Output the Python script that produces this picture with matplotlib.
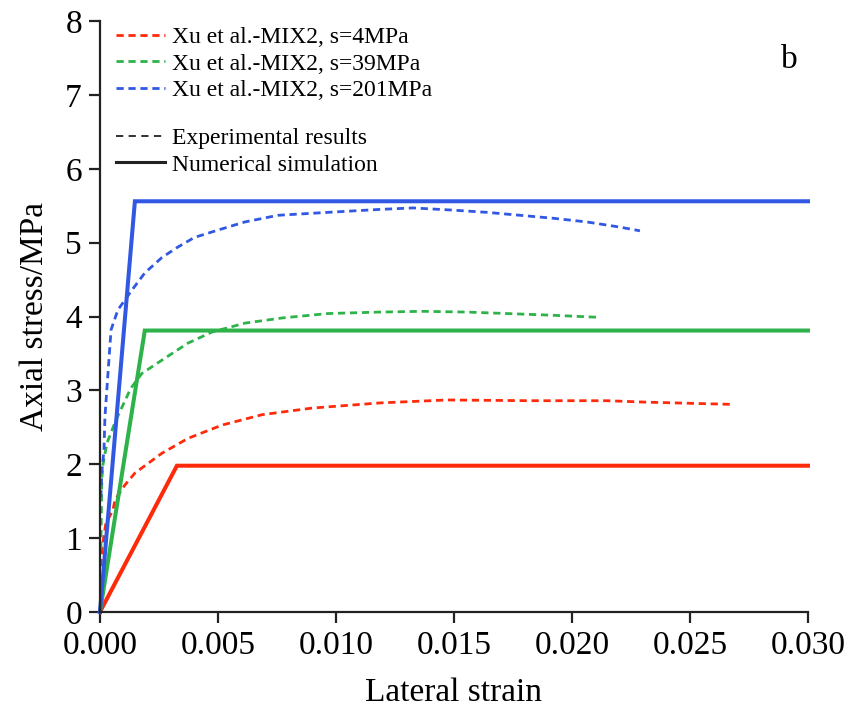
import numpy as np
import matplotlib.pyplot as plt
from matplotlib.lines import Line2D

plt.rcParams['font.family'] = ['Liberation Serif', 'DejaVu Serif']

# -----------------------------
# Experimental curves (Xu et al.-MIX2)
# -----------------------------
exp_s4_x = [0.00004, 0.00008, 0.00025, 0.00055, 0.00064, 0.00106, 0.00148, 0.00263,
            0.00373, 0.00517, 0.00686, 0.00898, 0.01186, 0.0147, 0.01822, 0.02148,
            0.02318, 0.02683]
exp_s4_y = [0.62, 0.85, 1.2, 1.38, 1.52, 1.72, 1.88, 2.15,
            2.35, 2.53, 2.67, 2.76, 2.83, 2.87, 2.86, 2.86,
            2.84, 2.81]

exp_s39_x = [0.00004, 0.00006, 0.00008, 0.00013, 0.00030, 0.00068, 0.00131, 0.00178,
             0.00263, 0.00373, 0.00475, 0.00614, 0.00771, 0.00966, 0.01186, 0.01369,
             0.01555, 0.01724, 0.01894, 0.02106]
exp_s39_y = [0.85, 1.4, 1.8, 2.0, 2.29, 2.6, 3.03, 3.23,
             3.41, 3.64, 3.79, 3.91, 3.98, 4.04, 4.06, 4.07,
             4.06, 4.04, 4.02, 3.99]

exp_s201_x = [0.00004, 0.00008, 0.00017, 0.00021, 0.00030, 0.00037, 0.00047, 0.00076,
              0.00136, 0.0019, 0.00263, 0.0033, 0.0040, 0.0050, 0.00614, 0.00754,
              0.00966, 0.01186, 0.01326, 0.01496, 0.0164, 0.0178, 0.0192, 0.02063,
              0.02203, 0.02288]
exp_s201_y = [1.55, 1.9, 2.19, 2.64, 3.05, 3.37, 3.82, 4.09,
              4.36, 4.59, 4.80, 4.94, 5.07, 5.17, 5.28, 5.37,
              5.41, 5.45, 5.47, 5.44, 5.41, 5.37, 5.33, 5.28,
              5.21, 5.16]

# -----------------------------
# Numerical simulation (bilinear)
# -----------------------------
num_s4_x = [0.0, 0.00326, 0.030]
num_s4_y = [0.0, 1.98, 1.98]
num_s39_x = [0.0, 0.0019, 0.030]
num_s39_y = [0.0, 3.81, 3.81]
num_s201_x = [0.0, 0.00148, 0.030]
num_s201_y = [0.0, 5.56, 5.56]

labels = ["Xu et al.-MIX2, s=4MPa", "Xu et al.-MIX2, s=39MPa", "Xu et al.-MIX2, s=201MPa"]
colors = ["#ff2a0a", "#2db34a", "#3158e2"]

fig = plt.figure(figsize=(8.45, 7.13), dpi=100)
ax = fig.add_axes([0.1183, 0.1417, 0.8379, 0.8288])

exp_sets = [(exp_s4_x, exp_s4_y), (exp_s39_x, exp_s39_y), (exp_s201_x, exp_s201_y)]
num_sets = [(num_s4_x, num_s4_y), (num_s39_x, num_s39_y), (num_s201_x, num_s201_y)]

for (xe, ye), (xn, yn), c, lab in zip(exp_sets, num_sets, colors, labels):
    ax.plot(xn, yn, color=c, lw=2.9, solid_joinstyle='miter', clip_on=False)
    ax.plot(xe, ye, color=c, lw=2.0, dashes=(2.6, 1.7), label=lab)

ax.set_xlim(0, 0.030)
ax.set_ylim(0, 8)
ax.set_xticks(np.arange(0, 0.0301, 0.005))
ax.set_xticklabels([f"{v:.3f}" for v in np.arange(0, 0.0301, 0.005)])
ax.set_yticks(range(0, 9))

for side in ['top', 'right']:
    ax.spines[side].set_visible(False)
for side in ['left', 'bottom']:
    ax.spines[side].set_linewidth(1.6)
    ax.spines[side].set_color('#222222')

ax.tick_params(direction='out', length=8, width=1.6, color='#222222',
               labelsize=24, pad=5)
ax.set_xlabel("Lateral strain", fontsize=24, labelpad=12)
ax.set_ylabel("Axial stress/MPa", fontsize=24, labelpad=11)

ax.text(0.985, 0.935, "b", transform=ax.transAxes, fontsize=24, ha='right', va='center')

leg1 = ax.legend(loc='upper left', bbox_to_anchor=(0.002, 1.015), frameon=False,
                 fontsize=17, handlelength=2.1, handletextpad=0.3, labelspacing=0.22,
                 borderaxespad=0.2)
ax.add_artist(leg1)

style_handles = [Line2D([], [], color='#222222', lw=1.3, dashes=(4, 3)),
                 Line2D([], [], color='#222222', lw=2.2)]
ax.legend(style_handles, ["Experimental results", "Numerical simulation"],
          loc='upper left', bbox_to_anchor=(0.002, 0.844), frameon=False,
          fontsize=17, handlelength=2.1, handletextpad=0.3, labelspacing=0.22,
          borderaxespad=0.2)

fig.savefig("out.png", dpi=100)
